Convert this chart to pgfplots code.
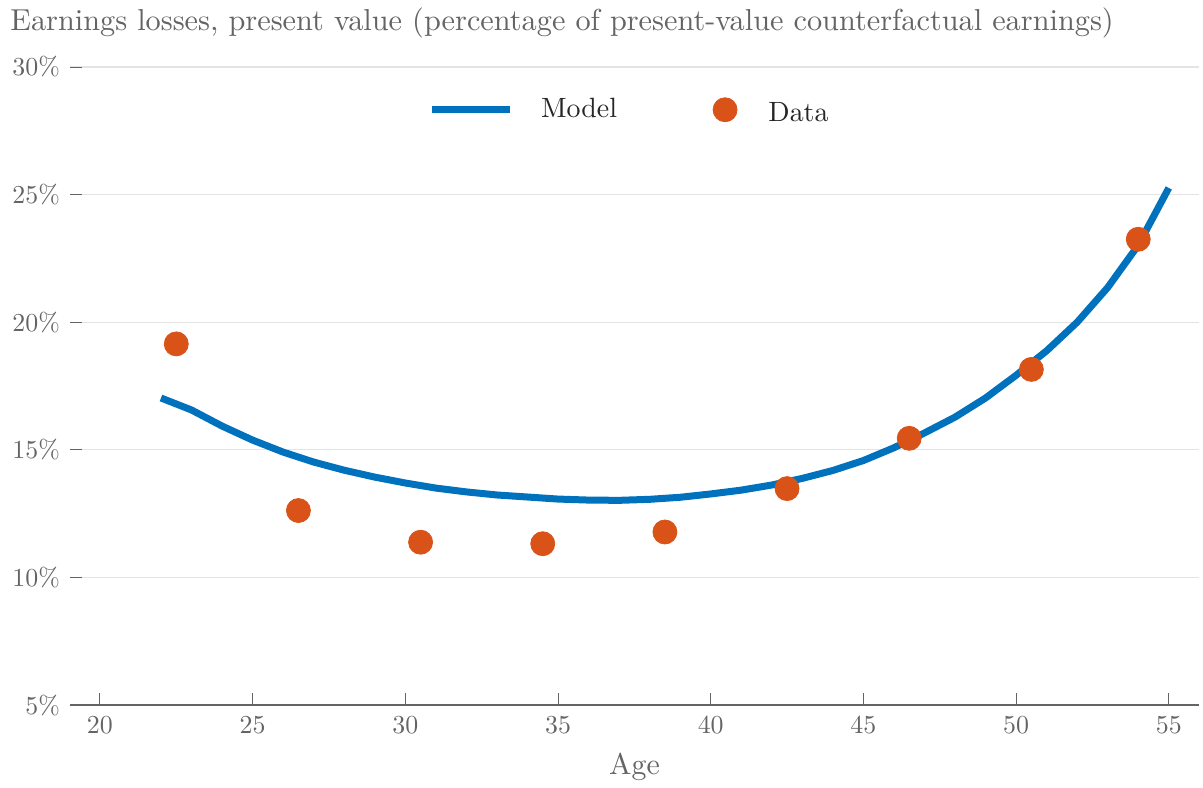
\documentclass[border=0pt]{standalone}
\usepackage{pgfplots}
\pgfplotsset{compat=1.18}
\DeclareFontFamily{TU}{lmrten}{}
\DeclareFontShape{TU}{lmrten}{m}{n}{<-> "[lmroman10-regular]:mapping=tex-text"}{}
\renewcommand\rmdefault{lmrten}
\definecolor{mblue}{RGB}{0,114,189}
\definecolor{morange}{RGB}{217,83,25}
\definecolor{tgray}{RGB}{100,100,100}
\definecolor{ggray}{RGB}{228,228,228}
\pgfplotsset{
  mylegline/.style={legend image code/.code={\draw[##1] (0bp,0bp) -- (39bp,0bp); \path[draw=none,fill=none] (0bp,0bp) -- (52.5bp,0bp);}},
  mylegdot/.style={legend image code/.code={\draw[mark repeat=2,mark phase=2,##1] plot coordinates {(0bp,0bp)(6bp,0bp)(12bp,0bp)}; \path[draw=none,fill=none] (0bp,0bp) -- (25.7bp,0bp);}},
}
\pgfplotstableread{
age val
22 17.03
23 16.56
24 15.93
25 15.38
26 14.91
27 14.52
28 14.20
29 13.93
30 13.70
31 13.50
32 13.35
33 13.23
34 13.15
35 13.07
36 13.03
37 13.02
38 13.06
39 13.14
40 13.27
41 13.42
42 13.62
43 13.88
44 14.19
45 14.58
46 15.08
47 15.66
48 16.28
49 17.03
50 17.92
51 18.88
52 20.00
53 21.36
54 23.02
55 25.26
}\model
\pgfplotstableread{
age val
22.5 19.15
26.5 12.62
30.5 11.38
34.5 11.32
38.5 11.78
42.5 13.48
46.5 15.45
50.5 18.15
54.0 23.25
}\data
\begin{document}
\begin{tikzpicture}[x=1bp,y=1bp]
\path[use as bounding box] (0,0) rectangle (601.5,393.5);
\node[anchor=base west, text=tgray, inner sep=0pt, font=\fontsize{15.2}{18}\selectfont] at (5,378.5) {Earnings losses, present value (percentage of present-value counterfactual earnings)};
\begin{axis}[
  at={(35bp,41bp)}, anchor=south west,
  scale only axis, width=564.5bp, height=319bp,
  xmin=19.02, xmax=55.99, ymin=5, ymax=30,
  axis x line=bottom, axis y line=left,
  y axis line style={draw=none},
  x axis line style={draw=tgray, line width=0.8pt, -},
  xtick={20,25,...,55}, ytick={5,10,...,30},
  /pgf/number format/assume math mode=true,
  yticklabel={\pgfmathprintnumber{\tick}\%},
  tick align=inside,
  major tick length=6bp,
  tick style={draw=tgray, line width=0.5pt},
  ymajorgrids, grid style={draw=ggray, line width=0.6pt},
  ticklabel style={text=tgray, font=\fontsize{13}{15}\selectfont},
  xticklabel style={yshift=-2bp},
  yticklabel style={xshift=-1.5bp},
  xlabel={Age},
  xlabel style={text=tgray, font=\fontsize{15}{17}\selectfont, yshift=-2.5bp},
  legend style={at={(0.4965,0.933)}, anchor=center, draw=none, fill=none,
    font=\fontsize{14}{16}\selectfont, text=black!85, legend columns=2,
    /tikz/every even column/.append style={column sep=46bp}},
  clip=false,
]
\addplot[mblue, line width=3.5bp, no markers, mylegline] table[x=age,y=val] {\model};
\addlegendentry{Model}
\addplot[only marks, mark=*, mark size=6bp, mark options={draw=morange, fill=morange}, mylegdot] table[x=age,y=val] {\data};
\addlegendentry{\raisebox{-3.5bp}{Data}}
\end{axis}
\end{tikzpicture}
\end{document}
